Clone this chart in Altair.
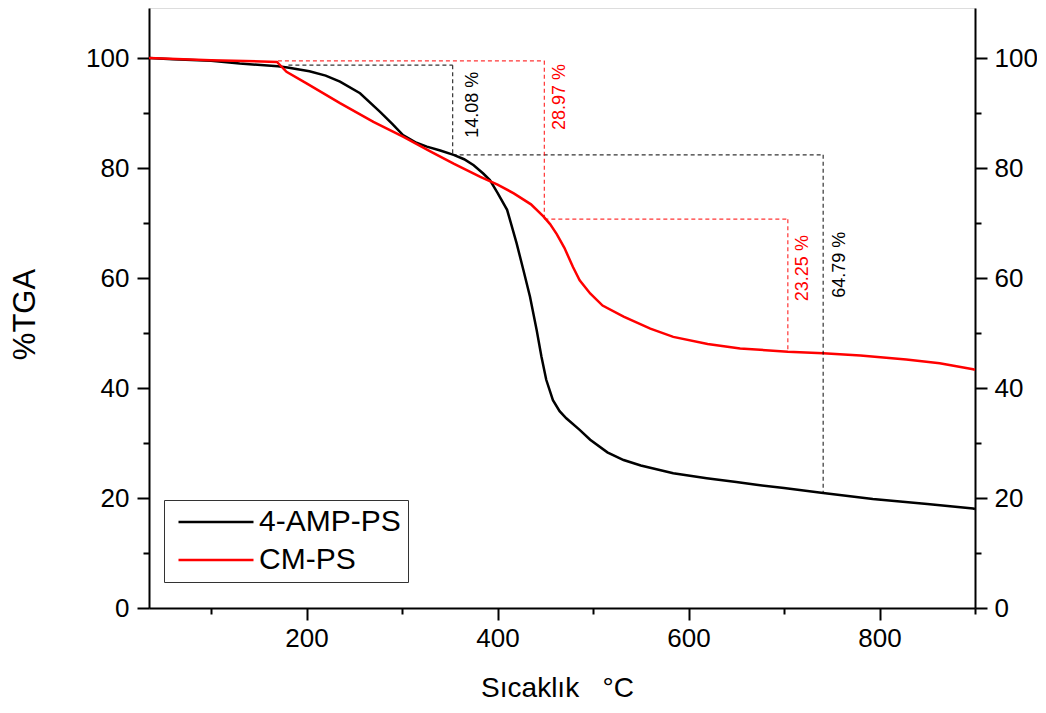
import altair as alt
import pandas as pd

FONT = "Liberation Sans"

# ---- curve data (temperature °C, %TGA) ----
amp_T = [35, 60, 100, 130, 170, 180, 203, 220, 235, 256, 277, 290, 301, 315, 326, 340, 354, 365,
         375, 385, 392, 400, 410, 420, 427, 434, 441, 446, 451, 458, 465, 472, 486, 497, 515,
         532, 550, 584, 619, 650, 671, 700, 741, 793, 850, 898, 900]
amp_V = [100, 99.8, 99.5, 99.0, 98.5, 98.3, 97.6, 96.8, 95.7, 93.6, 90.2, 88.0, 86.0, 84.6, 83.9,
         83.2, 82.4, 81.6, 80.5, 79.0, 77.8, 75.5, 72.4, 66.3, 61.5, 56.6, 50.5, 45.7, 41.5, 37.8,
         35.8, 34.5, 32.4, 30.6, 28.3, 26.9, 25.9, 24.5, 23.6, 22.9, 22.4, 21.8, 20.9, 19.8, 18.9,
         18.1, 18.0]

cm_T = [35, 100, 169, 179, 200, 235, 270, 301, 330, 354, 382, 400, 417, 435, 448, 455, 462, 470,
        479, 486, 497, 510, 532, 560, 584, 620, 654, 704, 741, 780, 828, 863, 898, 900]
cm_V = [100, 99.6, 99.3, 97.5, 95.4, 91.8, 88.4, 85.7, 83.0, 80.8, 78.4, 77.0, 75.4, 73.4, 71.2,
        69.8, 68.0, 65.5, 62.0, 59.6, 57.2, 55.0, 53.0, 50.8, 49.3, 48.0, 47.2, 46.6, 46.3, 45.9,
        45.2, 44.5, 43.4, 43.3]

series_names = ["4-AMP-PS", "CM-PS"]
series_colors = ["#000000", "#ff0000"]

# ---- dashed step guides ----
seg_series = ["4-AMP-PS", "4-AMP-PS", "4-AMP-PS", "4-AMP-PS", "CM-PS", "CM-PS", "CM-PS", "CM-PS"]
seg_x = [181, 353, 353, 741, 170, 449, 449, 704]
seg_x2 = [353, 353, 741, 741, 449, 449, 704, 704]
seg_y = [98.7, 98.7, 82.4, 82.4, 99.5, 99.5, 70.7, 70.7]
seg_y2 = [98.7, 82.4, 82.4, 20.9, 99.5, 70.7, 70.7, 46.8]

# ---- percentage annotations ----
ann_text = ["14.08 %", "28.97 %", "23.25 %", "64.79 %"]
ann_series = ["4-AMP-PS", "CM-PS", "CM-PS", "4-AMP-PS"]
ann_x = [374, 465, 720, 759]
ann_y = [91.5, 92.9, 61.8, 62.4]

curves = pd.concat([
    pd.DataFrame({"T": amp_T, "V": amp_V, "series": series_names[0], "order": range(len(amp_T))}),
    pd.DataFrame({"T": cm_T, "V": cm_V, "series": series_names[1], "order": range(len(cm_T))}),
])
segs = pd.DataFrame({"series": seg_series, "x": seg_x, "x2": seg_x2, "y": seg_y, "y2": seg_y2})
anns = pd.DataFrame({"text": ann_text, "series": ann_series, "x": ann_x, "y": ann_y})

xscale = alt.Scale(domain=[35, 900], nice=False, zero=False)
yscale = alt.Scale(domain=[0, 109.1], nice=False)
cscale = alt.Scale(domain=series_names, range=series_colors)

x_ticks = list(range(100, 901, 100))
y_ticks = list(range(0, 101, 10))

common = dict(domainColor="#000000", domainWidth=2, domainOpacity=1,
              tickColor="#000000", tickWidth=2, labelColor="#000000", titleColor="#000000",
              grid=False, labelOverlap=False)

x_axis = alt.Axis(
    values=x_ticks,
    tickSize={"condition": {"test": "datum.value % 200 === 0", "value": 12}, "value": 6},
    labelExpr="datum.value % 200 === 0 ? datum.label : ''",
    labelFontSize=26, labelFont=FONT, labelPadding=5, labelFlush=False,
    title="Sıcaklık\u00a0\u00a0\u00a0°C", titleFont=FONT, titleFontSize=28, titleFontWeight="normal",
    titleX=408, titleY=88, titleBaseline="alphabetic", titleAlign="center",
    **common,
)
y_left = alt.Axis(
    orient="left", values=y_ticks,
    tickSize={"condition": {"test": "datum.value % 20 === 0", "value": 12}, "value": 6},
    labelExpr="datum.value % 20 === 0 ? datum.label : ''",
    labelFontSize=26, labelFont=FONT, labelPadding=8,
    title="%TGA", titleFont=FONT, titleFontSize=31, titleFontWeight="normal",
    titleX=-124, titleY=306, titleBaseline="middle", titleAlign="center", titleAngle=-90,
    **common,
)
y_right = alt.Axis(
    orient="right", values=y_ticks,
    tickSize={"condition": {"test": "datum.value % 20 === 0", "value": 12}, "value": 6},
    labelExpr="datum.value % 20 === 0 ? datum.label : ''",
    labelFontSize=26, labelFont=FONT, labelPadding=7,
    title=None, **common,
)

legend = alt.Legend(
    title=None, orient="none", legendX=15, legendY=492,
    symbolType="M-1,0H9", symbolSize=225, symbolStrokeWidth=2.5, symbolOffset=0,
    labelFont=FONT, labelFontSize=30, labelOffset=58, labelLimit=400,
    labelExpr="datum.label + '\u2003\u2003'",
    strokeColor="#333333", padding=7, rowPadding=8,
)

X = alt.X("T:Q", scale=xscale, axis=x_axis)

lines = alt.Chart(curves).mark_line(strokeWidth=2.5).encode(
    x=X,
    y=alt.Y("V:Q", scale=yscale, axis=y_left),
    color=alt.Color("series:N", scale=cscale, legend=legend),
    order="order:Q",
)

right = alt.Chart(curves).mark_line(opacity=0).encode(
    x=X,
    y=alt.Y("V:Q", scale=yscale, axis=y_right),
    detail="series:N",
)

layers = [lines, right]
for name, col in zip(series_names, series_colors):
    layers.append(
        alt.Chart(segs).transform_filter(alt.datum.series == name)
        .mark_rule(strokeDash=[4, 3], strokeWidth=1.2, opacity=0.8, color=col)
        .encode(
            x=alt.X("x:Q", scale=xscale, axis=x_axis), x2="x2:Q",
            y=alt.Y("y:Q", scale=yscale, axis=None), y2="y2:Q",
        )
    )
    layers.append(
        alt.Chart(anns).transform_filter(alt.datum.series == name)
        .mark_text(angle=270, fontSize=18, font=FONT, align="center", baseline="middle", color=col)
        .encode(
            x=alt.X("x:Q", scale=xscale, axis=x_axis),
            y=alt.Y("y:Q", scale=yscale, axis=None),
            text="text:N",
        )
    )

chart = (
    alt.layer(*layers)
    .resolve_axis(y="independent")
    .properties(
        width=826, height=600,
        autosize=alt.AutoSizeParams(type="none"),
        padding={"left": 141, "top": 0, "right": 62, "bottom": 97},
    )
    .configure_view(stroke="#000000", strokeWidth=2, strokeOpacity=1)
    .configure(background="white")
)

chart.save("out.html", embed_options={"renderer": "svg", "actions": False})
